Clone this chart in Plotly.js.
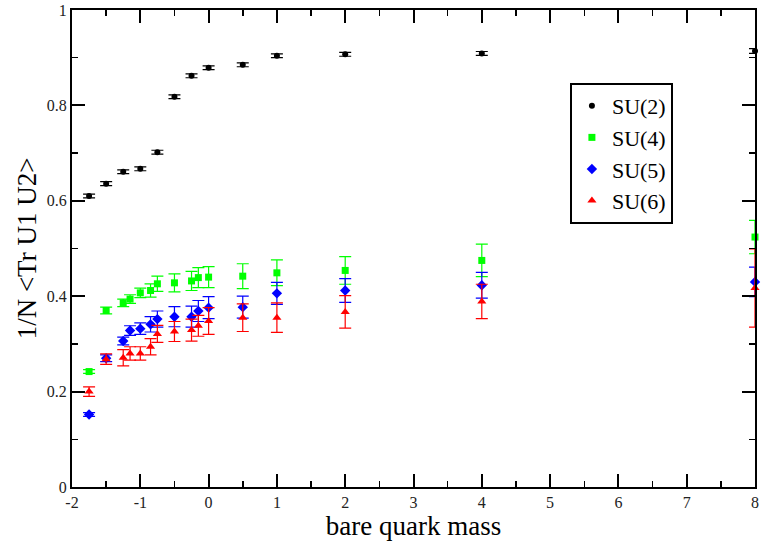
<!DOCTYPE html>
<html>
<head>
<meta charset="utf-8">
<script src="https://cdn.plot.ly/plotly-3.0.1.min.js"></script>
<style>
html,body{margin:0;padding:0;background:#fff;}
#chart{width:762px;height:552px;}
</style>
</head>
<body>
<div id="chart"></div>
<script>
// SU(2)
const x2 = [-1.75, -1.5, -1.25, -1, -0.75, -0.5, -0.25, 0, 0.5, 1, 2, 4, 8];
const y2 = [0.610, 0.636, 0.661, 0.667, 0.702, 0.818, 0.862, 0.879, 0.885, 0.904, 0.907, 0.909, 0.914];
const e2 = [0.004, 0.004, 0.004, 0.004, 0.004, 0.004, 0.004, 0.004, 0.004, 0.004, 0.004, 0.004, 0.005];
// SU(4), SU(5), SU(6) share x values
const xN = [-1.75, -1.5, -1.25, -1.15, -1, -0.85, -0.75, -0.5, -0.25, -0.15, 0, 0.5, 1, 2, 4, 8];
const y4 = [0.242, 0.370, 0.386, 0.394, 0.407, 0.412, 0.426, 0.428, 0.432, 0.439, 0.440, 0.442, 0.449, 0.454, 0.475, 0.524];
const e4 = [0.004, 0.007, 0.008, 0.009, 0.010, 0.014, 0.016, 0.019, 0.020, 0.021, 0.022, 0.026, 0.027, 0.029, 0.034, 0.035];
const y5 = [0.152, 0.270, 0.306, 0.328, 0.332, 0.341, 0.352, 0.357, 0.357, 0.369, 0.376, 0.377, 0.406, 0.412, 0.423, 0.430];
const e5 = [0.004, 0.007, 0.008, 0.010, 0.012, 0.016, 0.017, 0.021, 0.022, 0.022, 0.023, 0.023, 0.023, 0.025, 0.027, 0.031];
const y6 = [0.200, 0.268, 0.271, 0.280, 0.280, 0.294, 0.321, 0.326, 0.329, 0.338, 0.348, 0.355, 0.355, 0.367, 0.389, 0.417];
const e6 = [0.010, 0.011, 0.017, 0.014, 0.014, 0.017, 0.018, 0.021, 0.023, 0.022, 0.028, 0.029, 0.031, 0.034, 0.036, 0.082];

const names = ['SU(2)', 'SU(4)', 'SU(5)', 'SU(6)'];
const xTicks = [-2, -1, 0, 1, 2, 3, 4, 5, 6, 7, 8];
const yTicks = [0, 0.2, 0.4, 0.6, 0.8, 1];
const yTickText = ['0', '0.2', '0.4', '0.6', '0.8', '1'];

function tr(x, y, e, name, color, symbol, size) {
  return {
    x: x, y: y, name: name, type: 'scatter', mode: 'markers',
    marker: {color: color, symbol: symbol, size: size},
    error_y: {type: 'data', array: e, visible: true, color: color, thickness: 1.2, width: 6},
    cliponaxis: false
  };
}

const data = [
  tr(x2, y2, e2, names[0], '#000000', 'circle', 6),
  tr(xN, y4, e4, names[1], '#00ff00', 'square', 7),
  tr(xN, y5, e5, names[2], '#0000ff', 'diamond', 8),
  tr(xN, y6, e6, names[3], '#ff0000', 'triangle-up', 8)
];

const SERIF = 'Liberation Serif';

const layout = {
  width: 762, height: 552,
  margin: {l: 72, r: 7, t: 10, b: 65},
  paper_bgcolor: '#fff', plot_bgcolor: '#fff',
  showlegend: true,
  font: {family: SERIF, color: '#000'},
  xaxis: {
    range: [-2, 8], tickvals: xTicks, ticktext: xTicks.map(String),
    ticks: 'inside', ticklen: 13, tickwidth: 2, tickcolor: '#000',
    minor: {ticks: 'inside', ticklen: 6, tickwidth: 1.5, tickcolor: '#000', dtick: 0.5, tick0: 0},
    showline: true, linecolor: '#000', linewidth: 2, mirror: 'ticks',
    showgrid: false, zeroline: false,
    tickfont: {family: SERIF, size: 16, color: '#222'},
    title: {text: 'bare quark mass', font: {family: SERIF, size: 27, color: '#000'}, standoff: 3}
  },
  yaxis: {
    range: [0, 1], tickvals: yTicks, ticktext: yTickText,
    ticks: 'inside', ticklen: 13, tickwidth: 2, tickcolor: '#000',
    minor: {ticks: 'inside', ticklen: 6, tickwidth: 1.5, tickcolor: '#000', dtick: 0.1, tick0: 0},
    showline: true, linecolor: '#000', linewidth: 2, mirror: 'ticks',
    showgrid: false, zeroline: false,
    tickfont: {family: SERIF, size: 16, color: '#222'},
    title: {text: '1/N &lt;Tr U1 U2&gt;', font: {family: SERIF, size: 27, color: '#000'}, standoff: 2}
  },
  legend: {
    x: 0.729, y: 0.847, xanchor: 'left', yanchor: 'top',
    bgcolor: '#fff', bordercolor: '#000', borderwidth: 2,
    font: {family: SERIF, size: 22, color: '#000'},
    itemsizing: 'trace', tracegroupgap: 0
  }
};

Plotly.newPlot('chart', data, layout, {displayModeBar: false, staticPlot: true});
</script>
</body>
</html>
